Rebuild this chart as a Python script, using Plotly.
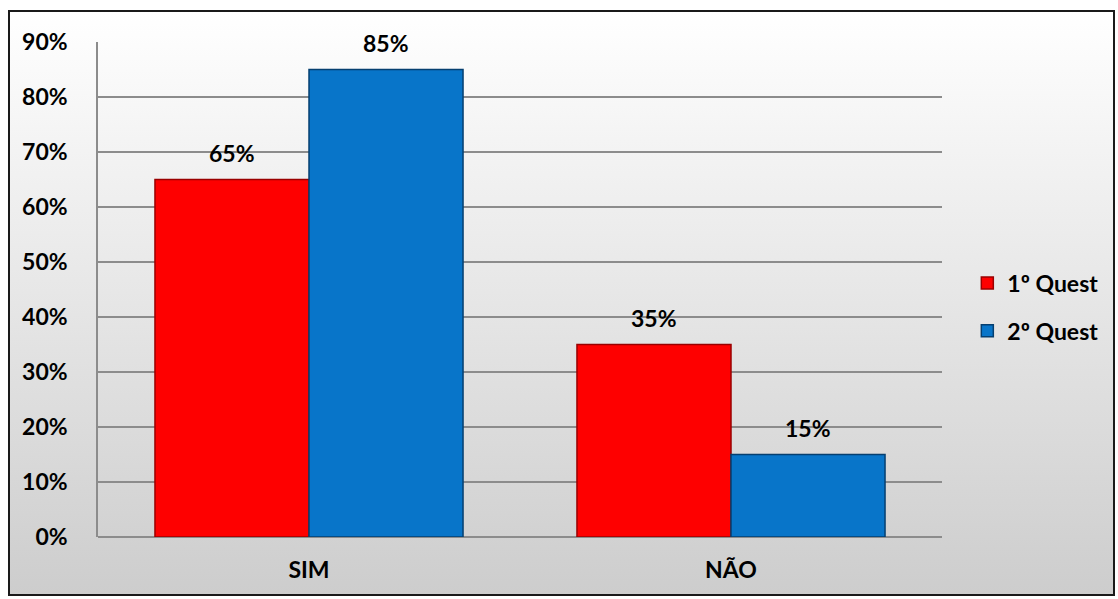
import plotly.graph_objects as go

# Survey answers, share of respondents per questionnaire
categories = ["SIM", "NÃO"]
quest1 = [0.65, 0.35]
quest2 = [0.85, 0.15]
series_names = ["1º Quest", "2º Quest"]
y_ticks = [0, 0.1, 0.2, 0.3, 0.4, 0.5, 0.6, 0.7, 0.8, 0.9]
y_tick_labels = ["0%", "10%", "20%", "30%", "40%", "50%", "60%", "70%", "80%", "90%"]

W, H = 1118, 599
M_L, M_R, M_T, M_B = 98, 176, 42, 62
FONT = "Lato"
FS = 23
BARGAP = 0.27

colors = ["#fe0000", "#0875c9"]
edge_colors = ["#9a0000", "#053f70"]

fig = go.Figure()
for name, vals, col, edge in zip(series_names, [quest1, quest2], colors, edge_colors):
    fig.add_trace(go.Bar(
        name=name, x=categories, y=vals, legendgroup=name,
        marker=dict(color=col, line=dict(color=edge, width=1.5)),
    ))

# value labels above each bar
bar_w = (1 - BARGAP) / 2
annotations = []
for k, vals in enumerate([quest1, quest2]):
    off = (k - 0.5) * bar_w
    for i, v in enumerate(vals):
        annotations.append(dict(
            x=i + off, y=v, xref="x", yref="y", text=f"{round(v * 100)}%",
            showarrow=False, yshift=27, yanchor="middle",
            font=dict(family=FONT, size=FS, color="#000000", weight="bold"),
        ))

# paper-coordinate extents of the outer frame
px = lambda p: (p - M_L) / (W - M_L - M_R)
py = lambda p: (H - M_B - p) / (H - M_T - M_B)
fx0, fx1, fy0, fy1 = px(9), px(1114), py(595), py(11)

grad_svg = (
    "data:image/svg+xml;utf8,<svg xmlns='http://www.w3.org/2000/svg' width='100' height='100' "
    "preserveAspectRatio='none'><defs><linearGradient id='g' x1='0' y1='0' x2='0' y2='1'>"
    "<stop offset='0' stop-color='%23ffffff'/><stop offset='1' stop-color='%23cdcdcd'/>"
    "</linearGradient></defs><rect width='100' height='100' fill='url(%23g)'/></svg>"
)

fig.update_layout(
    width=W, height=H,
    margin=dict(l=M_L, r=M_R, t=M_T, b=M_B),
    barmode="group", bargap=BARGAP, bargroupgap=0,
    paper_bgcolor="#ffffff", plot_bgcolor="#ffffff",
    font=dict(family=FONT, size=FS, color="#000000"),
    showlegend=True,
    legend=dict(
        x=1.03, xanchor="left", y=py(307), yanchor="middle",
        font=dict(family=FONT, size=FS, color="#000000", weight="bold"),
        bgcolor="rgba(0,0,0,0)", tracegroupgap=15, traceorder="grouped",
    ),
    annotations=annotations,
    images=[dict(
        source=grad_svg, xref="paper", yref="paper",
        x=fx0, y=fy1, sizex=fx1 - fx0, sizey=fy1 - fy0,
        xanchor="left", yanchor="top", sizing="stretch", layer="below",
    )],
    shapes=[dict(
        type="rect", xref="paper", yref="paper",
        x0=fx0, x1=fx1, y0=fy0, y1=fy1,
        line=dict(color="#1a1a1a", width=2), layer="above",
    )],
)

fig.update_xaxes(
    showgrid=False, showline=False, ticks="",
    ticklabelstandoff=17,
    tickfont=dict(family=FONT, size=FS, color="#000000", weight="bold"),
)
fig.update_yaxes(
    range=[0, 0.9], tickvals=y_ticks, ticktext=y_tick_labels,
    showgrid=True, gridcolor="#8c8c8c", gridwidth=1.5,
    zeroline=True, zerolinecolor="#8c8c8c", zerolinewidth=1.5,
    showline=True, linecolor="#8c8c8c", linewidth=1.5,
    ticks="", ticklabelstandoff=24,
    tickfont=dict(family=FONT, size=FS, color="#000000", weight="bold"),
)

fig.write_html("out.html")
